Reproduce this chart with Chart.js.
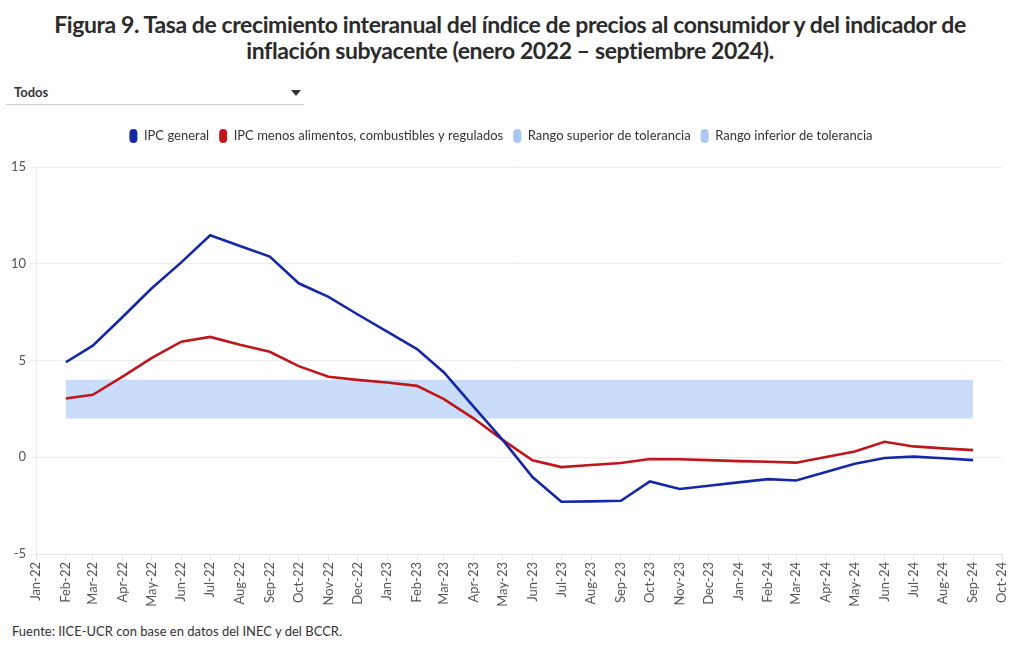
<!DOCTYPE html>
<html><head><meta charset="utf-8">
<script src="https://cdn.jsdelivr.net/npm/chart.js@4.4.1/dist/chart.umd.min.js"></script>
<style>
html,body{margin:0;padding:0}
body{width:1020px;height:650px;background:#fff;font-family:Lato,"Noto Sans",sans-serif;color:#333;position:relative;overflow:hidden}
#title{position:absolute;top:11px;left:0;width:1020px;text-align:center;font-weight:700;font-size:23px;line-height:26px;color:#2b2b2b;letter-spacing:-0.4px}
#dd{position:absolute;left:6px;top:81px;width:298px;height:23px;border-bottom:1px solid #cfcfcf}
#dd span{position:absolute;left:8px;top:3px;font-weight:700;font-size:13px;color:#333}
#dd i{position:absolute;left:285px;top:9px;width:0;height:0;border-left:5px solid transparent;border-right:5px solid transparent;border-top:6px solid #333}
#wrap{position:absolute;left:0;top:119px;width:1020px;height:497px}
#src{position:absolute;left:12px;top:623px;font-size:13px;color:#333}
</style></head>
<body>
<div id="title">Figura 9. Tasa de crecimiento interanual del índice de precios al consumidor y del indicador de<br>inflación subyacente (enero 2022 – septiembre 2024).</div>
<div id="dd"><span>Todos</span><i></i></div>
<div id="wrap"><canvas id="c"></canvas></div>
<div id="src">Fuente: IICE-UCR con base en datos del INEC y del BCCR.</div>
<script>
const categories = ["2022-02","2022-03","2022-04","2022-05","2022-06","2022-07","2022-08","2022-09","2022-10","2022-11","2022-12",
  "2023-01","2023-02","2023-03","2023-04","2023-05","2023-06","2023-07","2023-08","2023-09","2023-10","2023-11","2023-12",
  "2024-01","2024-02","2024-03","2024-04","2024-05","2024-06","2024-07","2024-08","2024-09"];
const ipcGeneral = [4.91,5.77,7.25,8.72,10.07,11.47,10.92,10.37,8.99,8.29,7.39,
  6.49,5.59,4.38,2.60,0.90,-1.02,-2.30,-2.28,-2.25,-1.25,-1.64,-1.47,
  -1.30,-1.13,-1.20,-0.76,-0.34,-0.04,0.03,-0.05,-0.15];
const ipcSubyacente = [3.04,3.23,4.17,5.12,5.97,6.22,5.81,5.45,4.71,4.16,4.00,
  3.86,3.69,3.00,2.00,0.90,-0.16,-0.51,-0.40,-0.30,-0.09,-0.10,-0.15,
  -0.20,-0.23,-0.28,0.01,0.30,0.80,0.56,0.46,0.37];
const rangoSuperior = [4,4,4,4,4,4,4,4,4,4,4,4,4,4,4,4,4,4,4,4,4,4,4,4,4,4,4,4,4,4,4,4];
const rangoInferior = [2,2,2,2,2,2,2,2,2,2,2,2,2,2,2,2,2,2,2,2,2,2,2,2,2,2,2,2,2,2,2,2];
const tickLabels = ["Jan-22","Feb-22","Mar-22","Apr-22","May-22","Jun-22","Jul-22","Aug-22","Sep-22","Oct-22","Nov-22","Dec-22",
  "Jan-23","Feb-23","Mar-23","Apr-23","May-23","Jun-23","Jul-23","Aug-23","Sep-23","Oct-23","Nov-23","Dec-23",
  "Jan-24","Feb-24","Mar-24","Apr-24","May-24","Jun-24","Jul-24","Aug-24","Sep-24","Oct-24"];
const yTicks = [-5,0,5,10,15];
const seriesNames = ["IPC general","IPC menos alimentos, combustibles y regulados","Rango superior de tolerancia","Rango inferior de tolerancia"];

const MON = ["Jan","Feb","Mar","Apr","May","Jun","Jul","Aug","Sep","Oct","Nov","Dec"];
const BASE = Date.UTC(2022,0,1);
const dayOf = (y,m) => (Date.UTC(y,m,1) - BASE) / 864e5;
const catDay = s => dayOf(+s.slice(0,4), +s.slice(5,7) - 1);
const tickDay = s => dayOf(2000 + +s.slice(4), MON.indexOf(s.slice(0,3)));
const tickPos = tickLabels.map(tickDay);
const pts = arr => categories.map((c,i) => ({x: catDay(c), y: arr[i]}));

const BLUE = "#1428a6", RED = "#bf161b", BAND = "#c9dcfa", BANDLEG = "#a9c7f6";
const legendFill = [BLUE, RED, BANDLEG, BANDLEG];

const legendSpace = {
  id: "legendSpace",
  beforeUpdate(chart) {
    const lg = chart.legend;
    if (lg && !lg._patched) {
      const fit = lg.fit.bind(lg);
      lg.fit = function() { fit(); this.height = 48; };
      lg._patched = true;
    }
  }
};

new Chart(document.getElementById("c"), {
  type: "line",
  data: {
    datasets: [
      {label: seriesNames[0], data: pts(ipcGeneral), borderColor: BLUE, backgroundColor: BLUE, borderWidth: 2.6, pointRadius: 0, tension: 0, fill: false},
      {label: seriesNames[1], data: pts(ipcSubyacente), borderColor: RED, backgroundColor: RED, borderWidth: 2.6, pointRadius: 0, tension: 0, fill: false},
      {label: seriesNames[2], data: pts(rangoSuperior), borderColor: BAND, backgroundColor: BAND, borderWidth: 0, pointRadius: 0, tension: 0, fill: "+1"},
      {label: seriesNames[3], data: pts(rangoInferior), borderColor: BAND, backgroundColor: BAND, borderWidth: 0, pointRadius: 0, tension: 0, fill: false}
    ]
  },
  plugins: [legendSpace],
  options: {
    responsive: true, maintainAspectRatio: false, animation: false,
    layout: {padding: {left: 0, right: 18, top: 0, bottom: 0}},
    plugins: {
      tooltip: {enabled: false},
      legend: {
        position: "top", align: "center",
        labels: {
          boxWidth: 8, boxHeight: 14, useBorderRadius: true, borderRadius: 4, padding: 10,
          color: "#333", font: {family: "Lato", size: 13},
          generateLabels: chart => Chart.defaults.plugins.legend.labels.generateLabels(chart).map((l,i) => Object.assign(l, {fillStyle: legendFill[i], strokeStyle: legendFill[i], lineWidth: 0}))
        }
      }
    },
    scales: {
      x: {
        type: "linear", min: tickPos[0], max: tickPos[tickPos.length-1],
        afterBuildTicks: s => { s.ticks = tickPos.map(v => ({value: v})); },
        afterFit: s => { s.height = 62; },
        ticks: {autoSkip: false, minRotation: 90, maxRotation: 90, padding: 2, color: "#555", font: {family: "Lato", size: 13},
          callback: (v, i) => tickLabels[i]},
        grid: {display: true, drawOnChartArea: false, drawTicks: true, tickLength: 6, color: "#e3e3e3"},
        border: {display: true, color: "#e3e3e3"}
      },
      y: {
        min: yTicks[0], max: yTicks[yTicks.length-1],
        afterBuildTicks: s => { s.ticks = yTicks.map(v => ({value: v})); },
        afterFit: s => { s.width = 36; },
        ticks: {padding: 4, color: "#555", font: {family: "Lato", size: 13}},
        grid: {color: "#ececec", tickLength: 6},
        border: {display: true, color: "#ececec"}
      }
    }
  }
});
</script>
</body></html>
